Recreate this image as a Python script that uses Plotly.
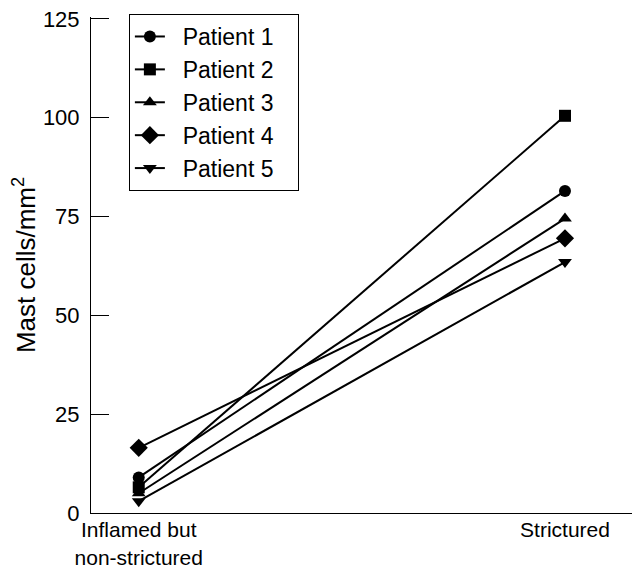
import plotly.graph_objects as go

categories = ["Inflamed but<br>non-strictured", "Strictured"]
patients = ["Patient 1", "Patient 2", "Patient 3", "Patient 4", "Patient 5"]
values = [
    [9.0, 81.5],
    [6.5, 100.5],
    [5.0, 74.5],
    [16.5, 69.5],
    [3.0, 63.5],
]
symbols = ["circle", "square", "triangle-up", "diamond", "triangle-down"]
y_ticks = [0, 25, 50, 75, 100, 125]

NB = "\u00a0"
fig = go.Figure()
for name, vals, sym in zip(patients, values, symbols):
    fig.add_trace(go.Scatter(
        x=[0, 1], y=vals, name=NB + NB + name + NB + NB + NB, mode="lines+markers",
        line=dict(color="black", width=2),
        marker=dict(symbol=sym, color="black", size=14 if sym == "diamond" else 12),
    ))

fig.update_layout(
    width=640, height=568,
    margin=dict(l=83, r=8, t=6, b=63),
    paper_bgcolor="white", plot_bgcolor="white",
    font=dict(family="Liberation Sans, Arial, sans-serif", size=22, color="black"),
    showlegend=True,
    legend=dict(x=0.069, y=1.006, xanchor="left", yanchor="top",
                bordercolor="black", borderwidth=1, bgcolor="white",
                font=dict(size=23), tracegroupgap=0, itemwidth=30),
    xaxis=dict(range=[-0.112, 1.176], tickmode="array", tickvals=[0, 1],
               ticktext=categories, showline=True, linecolor="black", linewidth=1,
               ticks="", showgrid=False, zeroline=False, automargin=False,
               ticklabelstandoff=-2, tickfont=dict(size=21)),
    yaxis=dict(range=[0, 125.5], tickmode="array", tickvals=y_ticks,
               ticktext=[str(v) for v in y_ticks],
               showline=True, linecolor="black", linewidth=1,
               ticks="inside", ticklen=18, tickcolor="black",
               showgrid=False, zeroline=False, automargin=False,
               ticklabelstandoff=6, ticklabeloverflow="allow",
               title=dict(text="Mast cells/mm<sup>2</sup>", standoff=15)),
)

fig.write_html("out.html")
